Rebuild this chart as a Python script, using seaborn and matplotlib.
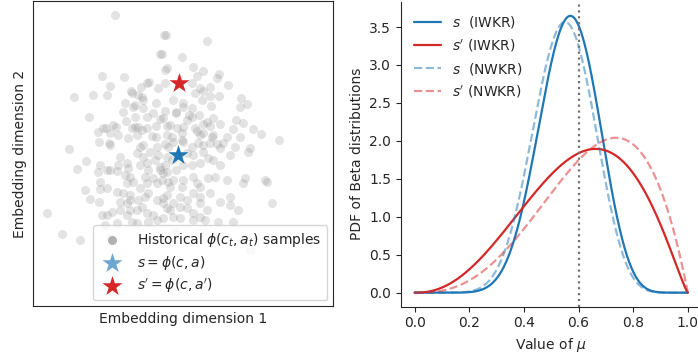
import math
import numpy as np
import pandas as pd
import matplotlib
matplotlib.use("Agg")
import matplotlib.pyplot as plt
import seaborn as sns

sns.set_style("ticks")
plt.rcParams['font.family'] = ['DejaVu Sans']
plt.rcParams['font.size'] = 10
plt.rcParams['mathtext.fontset'] = 'dejavusans'

# ---------------- data: left panel (embedding samples) ----
hist_dim1 = [115, 164, 166, 207, 160, 162, 182, 193, 165, 167, 203, 102, 124, 219, 217,
             197, 147, 149, 165, 158, 192, 110, 141, 200, 228, 210, 131, 132, 74, 93,
             107, 138, 142, 143, 203, 210, 219, 195, 173, 183, 202, 241, 125, 135, 133,
             192, 183, 156, 240, 247, 211, 123, 143, 153, 165, 176, 176, 189, 192, 199,
             89, 135, 147, 160, 163, 213, 126, 187, 203, 207, 220, 236, 243, 113, 116,
             103, 106, 132, 135, 138, 142, 147, 156, 167, 170, 177, 183, 195, 197, 210,
             233, 253, 98, 110, 118, 128, 137, 152, 156, 167, 172, 182, 200, 203, 212,
             213, 227, 240, 261, 279, 99, 109, 110, 140, 143, 157, 165, 168, 173, 182,
             183, 198, 203, 210, 217, 223, 235, 69, 220, 250, 192,
             86, 100, 77, 98, 107, 110, 117, 120, 118, 127, 128, 125, 130, 137, 143,
             140, 147, 148, 145, 153, 157, 162, 163, 160, 155, 158, 150, 167, 165, 168,
             100, 127, 133, 147, 140, 85, 100, 107, 90, 99, 117, 123, 130, 120, 127,
             130, 138, 145, 142, 148, 157, 163, 167, 112, 120, 130, 137, 47, 102, 107,
             127, 147, 153, 105, 117, 132, 137, 148, 157, 163, 62, 80,
             187, 193, 203, 208, 200, 192, 213, 220, 230, 248, 173, 170, 160, 167, 183,
             182, 193, 197, 200, 208, 215, 227, 245, 243, 267, 265, 272, 210, 220, 230,
             230, 238, 193, 200, 200, 180, 187, 180, 187, 167, 163, 170, 173, 193, 200,
             193, 205, 173, 180, 218, 233, 207, 172, 183, 176, 110, 175, 215, 145, 250]
hist_dim2 = [15, 35, 35, 41, 54, 54, 57, 67, 70, 68, 71, 76, 77, 74, 78,
             76, 83, 82, 83, 88, 83, 86, 87, 88, 85, 87, 91, 93, 97, 95,
             95, 95, 97, 100, 91, 96, 96, 93, 100, 103, 100, 98, 103, 105, 107,
             108, 107, 103, 107, 104, 106, 112, 108, 113, 111, 112, 113, 115, 117, 115,
             117, 117, 117, 119, 118, 118, 121, 120, 124, 122, 124, 120, 123, 125, 127,
             128, 128, 128, 127, 127, 130, 128, 126, 126, 125, 128, 127, 128, 131, 126,
             129, 129, 132, 133, 135, 138, 135, 136, 137, 135, 137, 133, 135, 133, 137,
             135, 137, 137, 134, 140, 142, 143, 145, 147, 145, 147, 144, 147, 142, 140,
             142, 143, 145, 143, 144, 143, 147, 149, 148, 148, 147,
             161, 165, 169, 172, 170, 170, 171, 157, 165, 163, 168, 175, 177, 153, 157,
             165, 163, 170, 177, 178, 183, 180, 173, 167, 160, 155, 152, 157, 165, 182,
             182, 183, 182, 183, 188, 190, 189, 188, 199, 202, 192, 193, 195, 202, 203,
             200, 200, 197, 207, 193, 200, 198, 208, 212, 210, 210, 210, 213, 215, 215,
             215, 213, 215, 225, 223, 222, 223, 222, 220, 218, 234, 240,
             153, 155, 152, 158, 163, 165, 160, 165, 155, 152, 180, 187, 170, 172, 180,
             187, 177, 183, 187, 178, 177, 180, 178, 183, 182, 180, 203, 193, 202, 197,
             205, 210, 193, 197, 203, 197, 200, 207, 208, 195, 203, 210, 203, 213, 217,
             220, 220, 217, 218, 222, 222, 210, 160, 165, 170, 238, 232, 236, 245, 250]
s_point = [178, 155]
s_prime_point = [179, 83]

# ---------------- data: right panel (Beta parameters) -------
series_labels = ["$s$  (IWKR)", "$s'$ (IWKR)", "$s$  (NWKR)", "$s'$ (NWKR)"]
beta_a = [11.83, 3.4, 11.07, 3.8]
beta_b = [9.17, 2.22, 9.23, 2.0]
series_colors = ["#1f77b4", "#d62728", "#1f77b4", "#d62728"]
series_styles = ["-", "-", "--", "--"]
series_alpha = [1.0, 1.0, 0.5, 0.5]
mu_reference = 0.6
x_ticks = [0.0, 0.2, 0.4, 0.6, 0.8, 1.0]
y_ticks = [0.0, 0.5, 1.0, 1.5, 2.0, 2.5, 3.0, 3.5]


def beta_pdf(x, a, b):
    log_b = math.lgamma(a) + math.lgamma(b) - math.lgamma(a + b)
    with np.errstate(divide="ignore"):
        return np.exp((a - 1) * np.log(x) + (b - 1) * np.log1p(-x) - log_b)


fig = plt.figure(figsize=(6.98, 3.60), dpi=100)
ax1 = fig.add_axes([33 / 698, 1 - 306 / 360, 300 / 698, 305 / 360])
ax2 = fig.add_axes([401 / 698, 1 - 306.5 / 360, 300.5 / 698, 304.5 / 360])

# left panel
df_hist = pd.DataFrame({"d1": hist_dim1, "d2": hist_dim2})
sns.scatterplot(data=df_hist, x="d1", y="d2", ax=ax1, color="gray", alpha=0.22,
                s=42, linewidth=0, label=r"Historical $\phi(c_t, a_t)$ samples")
sns.scatterplot(x=[s_point[0]], y=[s_point[1]], ax=ax1, color="#1f77b4", marker="*",
                s=230, linewidth=0, label=r"$s = \phi(c, a)$", zorder=5)
sns.scatterplot(x=[s_prime_point[0]], y=[s_prime_point[1]], ax=ax1, color="#d62728",
                marker="*", s=230, linewidth=0, label=r"$s' = \phi(c, a')$", zorder=5)
ax1.set_xlim(33, 333)
ax1.set_ylim(306, 1)
ax1.set_xticks([])
ax1.set_yticks([])
ax1.set_xlabel("Embedding dimension 1")
ax1.set_ylabel("Embedding dimension 2")
for sp in ax1.spines.values():
    sp.set_visible(True)
leg1 = ax1.legend(loc="lower right", fontsize=10, labelspacing=0.35,
                  borderaxespad=0.4)
hs = leg1.legend_handles
hs[0].set_alpha(0.6)
hs[1].set_alpha(0.65)

# right panel
mu = np.linspace(0, 1, 501)
for lab, a, b, c, ls, al in zip(series_labels, beta_a, beta_b, series_colors,
                                series_styles, series_alpha):
    sns.lineplot(x=mu, y=beta_pdf(mu, a, b), ax=ax2, color=c, linestyle=ls,
                 alpha=al, linewidth=1.6, label=lab)
ax2.axvline(mu_reference, color="0.45", linestyle=":", linewidth=1.6)
ax2.set_xticks(x_ticks)
ax2.set_yticks(y_ticks)
ax2.set_xlim(-0.05, 1.05)
ax2.set_xlabel(r"Value of $\mu$")
ax2.set_ylabel("PDF of Beta distributions")
sns.despine(ax=ax2)
ax2.legend(loc="upper left", frameon=False, fontsize=10)

fig.savefig("out.png", dpi=100)
